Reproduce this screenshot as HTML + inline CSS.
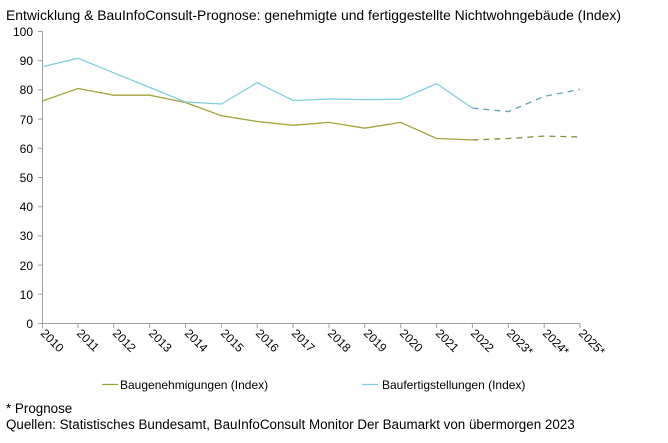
<!DOCTYPE html>
<html><head><meta charset="utf-8"><style>
body{margin:0;background:#fff;width:668px;height:438px;overflow:hidden;font-family:"Liberation Sans",Arial,sans-serif;}
</style></head><body>
<svg width="668" height="438" xmlns="http://www.w3.org/2000/svg" font-family="Liberation Sans, Arial, sans-serif" font-size="12" fill="#000">
<text x="6" y="20" font-size="13.6" textLength="615" lengthAdjust="spacingAndGlyphs">Entwicklung &amp; BauInfoConsult-Prognose: genehmigte und fertiggestellte Nichtwohngebäude (Index)</text>
<g stroke="#a0a0a0" stroke-width="1" fill="none">
<line x1="42.5" y1="31" x2="42.5" y2="323"/>
<line x1="42" y1="323.5" x2="580" y2="323.5"/>
<path d="M38 31.5H42M38 60.7H42M38 89.9H42M38 119.1H42M38 148.3H42M38 177.5H42M38 206.7H42M38 235.9H42M38 265.1H42M38 294.3H42M38 323.5H42"/>
<path d="M42.5 323V328M77.9 323V328M113.7 323V328M149.6 323V328M185.5 323V328M221.4 323V328M257.2 323V328M293.1 323V328M329 323V328M364.8 323V328M400.7 323V328M436.6 323V328M472.4 323V328M508.3 323V328M544.2 323V328M580 323V328"/>
</g>
<g text-anchor="end" font-size="12">
<text x="33" y="36">100</text><text x="33" y="65">90</text><text x="33" y="94">80</text><text x="33" y="124">70</text><text x="33" y="153">60</text><text x="33" y="182">50</text><text x="33" y="211">40</text><text x="33" y="240">30</text><text x="33" y="270">20</text><text x="33" y="299">10</text><text x="33" y="328">0</text>
</g>
<g font-size="12">
<text transform="translate(40,334) rotate(45)">2010</text>
<text transform="translate(76,334) rotate(45)">2011</text>
<text transform="translate(112,334) rotate(45)">2012</text>
<text transform="translate(148,334) rotate(45)">2013</text>
<text transform="translate(184,334) rotate(45)">2014</text>
<text transform="translate(220,334) rotate(45)">2015</text>
<text transform="translate(255,334) rotate(45)">2016</text>
<text transform="translate(291,334) rotate(45)">2017</text>
<text transform="translate(327,334) rotate(45)">2018</text>
<text transform="translate(363,334) rotate(45)">2019</text>
<text transform="translate(399,334) rotate(45)">2020</text>
<text transform="translate(435,334) rotate(45)">2021</text>
<text transform="translate(470,334) rotate(45)">2022</text>
<text transform="translate(506,334) rotate(45)">2023*</text>
<text transform="translate(542,334) rotate(45)">2024*</text>
<text transform="translate(578,334) rotate(45)">2025*</text>
</g>
<polyline fill="none" stroke="#a3a33a" stroke-width="1.3" points="42,101.1 77.9,88.5 113.7,95.2 149.6,95.2 185.5,102.5 221.4,115.7 257.2,121.5 293.1,125.3 329,122.4 364.8,128.2 400.7,122.4 436.6,138.5 472.4,139.9"/>
<polyline fill="none" stroke="#8a8a3a" stroke-width="1.3" stroke-dasharray="6,5" points="472.4,139.9 508.3,138.5 544.2,136.1 580,137"/>
<polyline fill="none" stroke="#7fd0dc" stroke-width="1.3" points="42,66.9 77.9,58.2 113.7,72.8 149.6,87.4 185.5,102 221.4,104 257.2,82.7 293.1,100.5 329,99 364.8,99.6 400.7,99.3 436.6,83.6 472.4,108.1"/>
<polyline fill="none" stroke="#5aa3b4" stroke-width="1.3" stroke-dasharray="6,5" points="472.4,108.1 508.3,111.6 544.2,96.4 580,89.4"/>
<line x1="102" y1="384.5" x2="118" y2="384.5" stroke="#a3a33a" stroke-width="1.3"/>
<text x="120" y="389">Baugenehmigungen (Index)</text>
<line x1="362" y1="384.5" x2="378" y2="384.5" stroke="#7fd0dc" stroke-width="1.3"/>
<text x="382" y="389">Baufertigstellungen (Index)</text>
<text x="6" y="413" font-size="13.4">* Prognose</text>
<text x="6" y="429" font-size="13.4">Quellen: Statistisches Bundesamt, BauInfoConsult Monitor Der Baumarkt von übermorgen 2023</text>
</svg>
</body></html>
